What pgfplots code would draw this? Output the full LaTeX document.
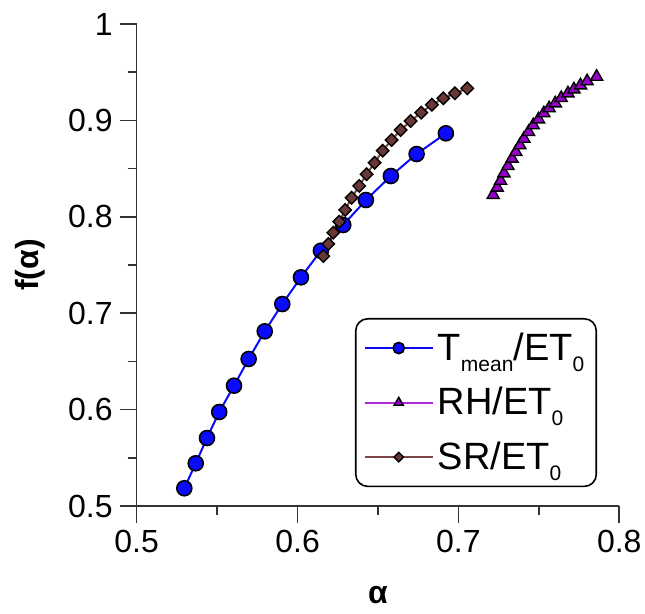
\documentclass[border=0pt]{standalone}
\usepackage{fontspec}
\setmainfont{Liberation Sans}
\usepackage{pgfplots}
\pgfplotsset{compat=1.18}

\definecolor{tmeanc}{RGB}{10,10,255}
\definecolor{rhc}{RGB}{150,0,200}
\definecolor{rhline}{RGB}{175,40,215}
\definecolor{src}{RGB}{105,55,55}
\definecolor{srline}{RGB}{125,70,70}
% lowered, smaller subscript as in the legend of the original
\newcommand\sub[1]{\raisebox{-0.55ex}{\fontsize{10.5}{12}\selectfont #1}}

\begin{document}
\begin{tikzpicture}
\begin{axis}[
    at={(0,0)}, anchor=south west,
    scale only axis,
    width=241.3pt, height=241pt,
    xmin=0.5, xmax=0.8, ymin=0.5, ymax=1,
    axis x line*=bottom, axis y line*=left,
    axis line style={-, line width=0.8pt, black!80},
    every tick/.style={black!80, line width=0.8pt},
    tick align=outside,
    major tick length=8.5pt, minor tick length=4.5pt,
    xtick={0.5,0.6,0.7,0.8}, xticklabels={0.5,0.6,0.7,0.8},
    ytick={0.5,0.6,0.7,0.8,0.9,1}, yticklabels={0.5,0.6,0.7,0.8,0.9,1},
    minor tick num=1,
    tick label style={font=\fontsize{16}{19}\selectfont},
    xlabel={\textbf{α}}, ylabel={\textbf{f(α)}},
    xlabel style={at={(axis description cs:0.5,-0.1846)}, anchor=center, font=\fontsize{16}{19}\selectfont},
    ylabel style={at={(axis description cs:-0.2211,0.5)}, anchor=center, font=\fontsize{16}{19}\selectfont},
    clip=false,
    legend cell align=left,
    legend style={at={(rel axis cs:0.954,0.039)}, anchor=south east,
        draw=black, line width=0.8pt, rounded corners=6pt,
        inner xsep=4pt, inner ysep=5pt, row sep=8pt,
        font=\fontsize{19}{23}\selectfont},
    legend image code/.code={
        \draw[mark repeat=2, mark phase=2, every mark/.append style={scale=0.75}]
            plot coordinates {(0pt,0pt) (17pt,0pt) (34pt,0pt)};
    },
]
\addplot[tmeanc, line width=1pt, mark=*, mark size=3.75pt,
    mark options={fill=tmeanc, draw=black, line width=0.8pt}] coordinates {
    (0.5296,0.5184) (0.5367,0.5443) (0.5437,0.5705) (0.5513,0.5975)
    (0.5605,0.6248) (0.5696,0.6525) (0.5796,0.6812) (0.5905,0.7095)
    (0.6021,0.7372) (0.6145,0.7648) (0.6284,0.7915) (0.6425,0.8174)
    (0.6580,0.8423) (0.6740,0.8651) (0.6922,0.8866)
};
\addlegendentry{T\sub{mean}/ET\sub{0}}
\addplot[rhline, line width=1pt, mark=triangle*, mark size=3.5pt,
    mark options={fill=rhc, draw=black, line width=0.7pt}] coordinates {
    (0.7216,0.8226) (0.7241,0.8302) (0.7262,0.8374) (0.7283,0.8451)
    (0.7308,0.8527) (0.7333,0.8603) (0.7357,0.8672) (0.7382,0.8742)
    (0.7407,0.8810) (0.7436,0.8880) (0.7465,0.8950) (0.7498,0.9011)
    (0.7531,0.9074) (0.7564,0.9126) (0.7602,0.9177) (0.7639,0.9232)
    (0.7681,0.9281) (0.7718,0.9322) (0.7759,0.9364) (0.7800,0.9406)
    (0.7859,0.9453)
};
\addlegendentry{RH/ET\sub{0}}
\addplot[srline, line width=1pt, mark=square*, mark size=2.2pt,
    mark options={fill=src, draw=black, line width=0.7pt, rotate=45}] coordinates {
    (0.6160,0.7593) (0.6191,0.7718) (0.6222,0.7835) (0.6259,0.7949)
    (0.6296,0.8071) (0.6336,0.8198) (0.6383,0.8320) (0.6429,0.8441)
    (0.6479,0.8561) (0.6529,0.8686) (0.6585,0.8797) (0.6641,0.8900)
    (0.6703,0.8994) (0.6769,0.9080) (0.6835,0.9163) (0.6906,0.9229)
    (0.6978,0.9281) (0.7055,0.9333)
};
\addlegendentry{SR/ET\sub{0}}
\end{axis}
\pgfresetboundingbox
\path (-68.35pt,-54pt) rectangle (254.15pt,253pt);
\end{tikzpicture}
\end{document}
